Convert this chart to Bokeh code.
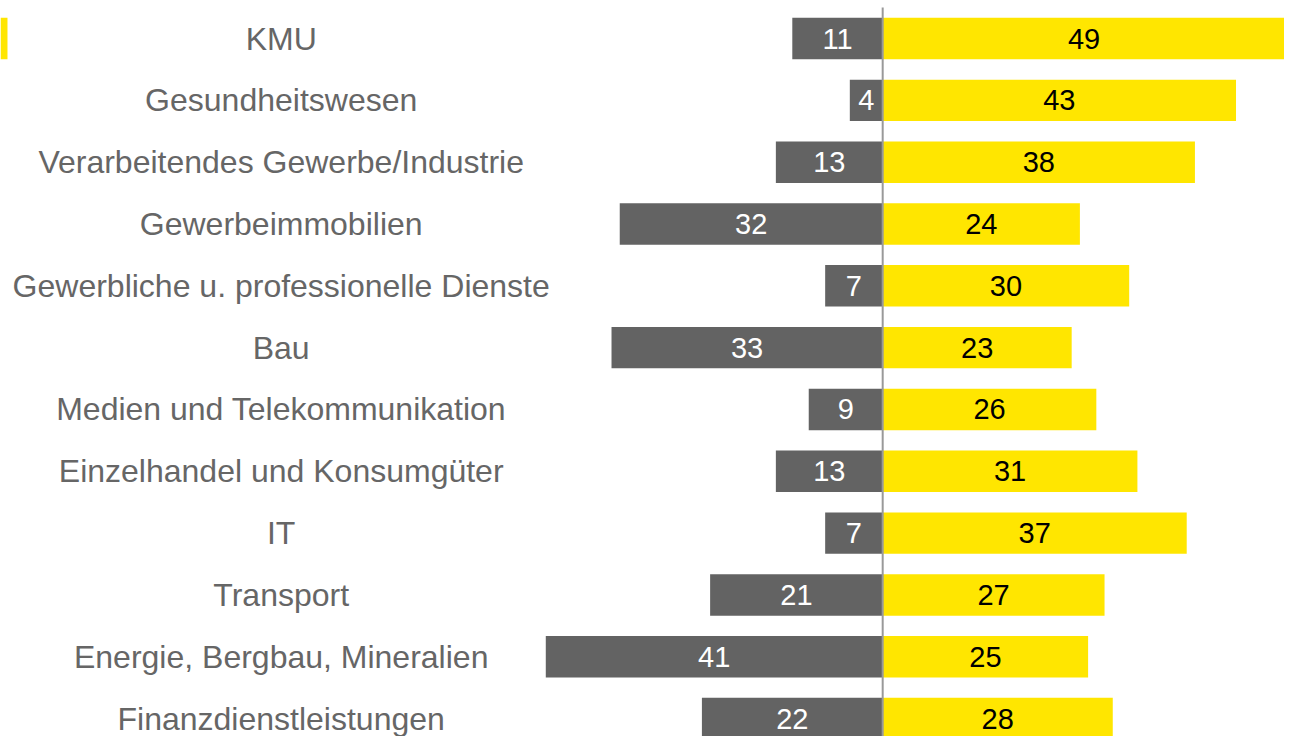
from bokeh.plotting import figure
from bokeh.models import Range1d, ColumnDataSource
from bokeh.core.properties import value
from bokeh.embed import file_html
from bokeh.resources import INLINE

categories = [
    "KMU",
    "Gesundheitswesen",
    "Verarbeitendes Gewerbe/Industrie",
    "Gewerbeimmobilien",
    "Gewerbliche u. professionelle Dienste",
    "Bau",
    "Medien und Telekommunikation",
    "Einzelhandel und Konsumgüter",
    "IT",
    "Transport",
    "Energie, Bergbau, Mineralien",
    "Finanzdienstleistungen",
]
negative = [11, 4, 13, 32, 7, 33, 9, 13, 7, 21, 41, 22]
positive = [49, 43, 38, 24, 30, 23, 26, 31, 37, 27, 25, 28]

GREY = "#636363"
YELLOW = "#FFE600"
LABEL = "#666666"

n = len(categories)
ys = list(range(n))
LAB_X = -73.2
src = ColumnDataSource(dict(
    y=ys,
    cat=categories,
    neg=[-v for v in negative],
    pos=positive,
    neg_mid=[-v / 2 for v in negative],
    pos_mid=[v / 2 for v in positive],
    neg_txt=[str(v) for v in negative],
    pos_txt=[str(v) for v in positive],
    zero=[0] * n,
    lab_x=[LAB_X] * n,
))

X0, X1 = -107.36, 48.9
Y_TOP, Y_BOT = -0.615, 11.29
p = figure(width=1284, height=736, output_backend="svg", toolbar_location=None,
           x_range=Range1d(X0, X1), y_range=Range1d(Y_BOT, Y_TOP),
           min_border=0, min_border_left=0, min_border_right=0,
           min_border_top=0, min_border_bottom=0)
p.axis.visible = False
p.grid.visible = False
p.outline_line_color = None
p.background_fill_color = "white"
p.border_fill_color = "white"

bh = 0.67
p.hbar(y="y", left="neg", right="zero", height=bh, source=src,
       fill_color=GREY, line_color=None)
p.hbar(y="y", left="zero", right="pos", height=bh, source=src,
       fill_color=YELLOW, line_color=None)

# highlight marker for the first row
p.quad(left=[X0], right=[X0 + 0.85], bottom=[bh / 2], top=[-bh / 2],
       fill_color=YELLOW, line_color=None)

p.text(x="neg_mid", y="y", text="neg_txt", source=src, text_color="white",
       text_font=value("Liberation Sans"), text_font_size="29px",
       text_align="center", text_baseline="middle")
p.text(x="pos_mid", y="y", text="pos_txt", source=src, text_color="black",
       text_font=value("Liberation Sans"), text_font_size="29px",
       text_align="center", text_baseline="middle")
p.text(x="lab_x", y="y", text="cat", source=src, text_color=LABEL,
       text_font=value("Liberation Sans"), text_font_size="32px",
       text_align="center", text_baseline="middle")

# zero line
p.segment(x0=[0], y0=[-0.5], x1=[0], y1=[Y_BOT], line_color="#999999", line_width=2)

open("out.html", "w").write(file_html(p, INLINE))
